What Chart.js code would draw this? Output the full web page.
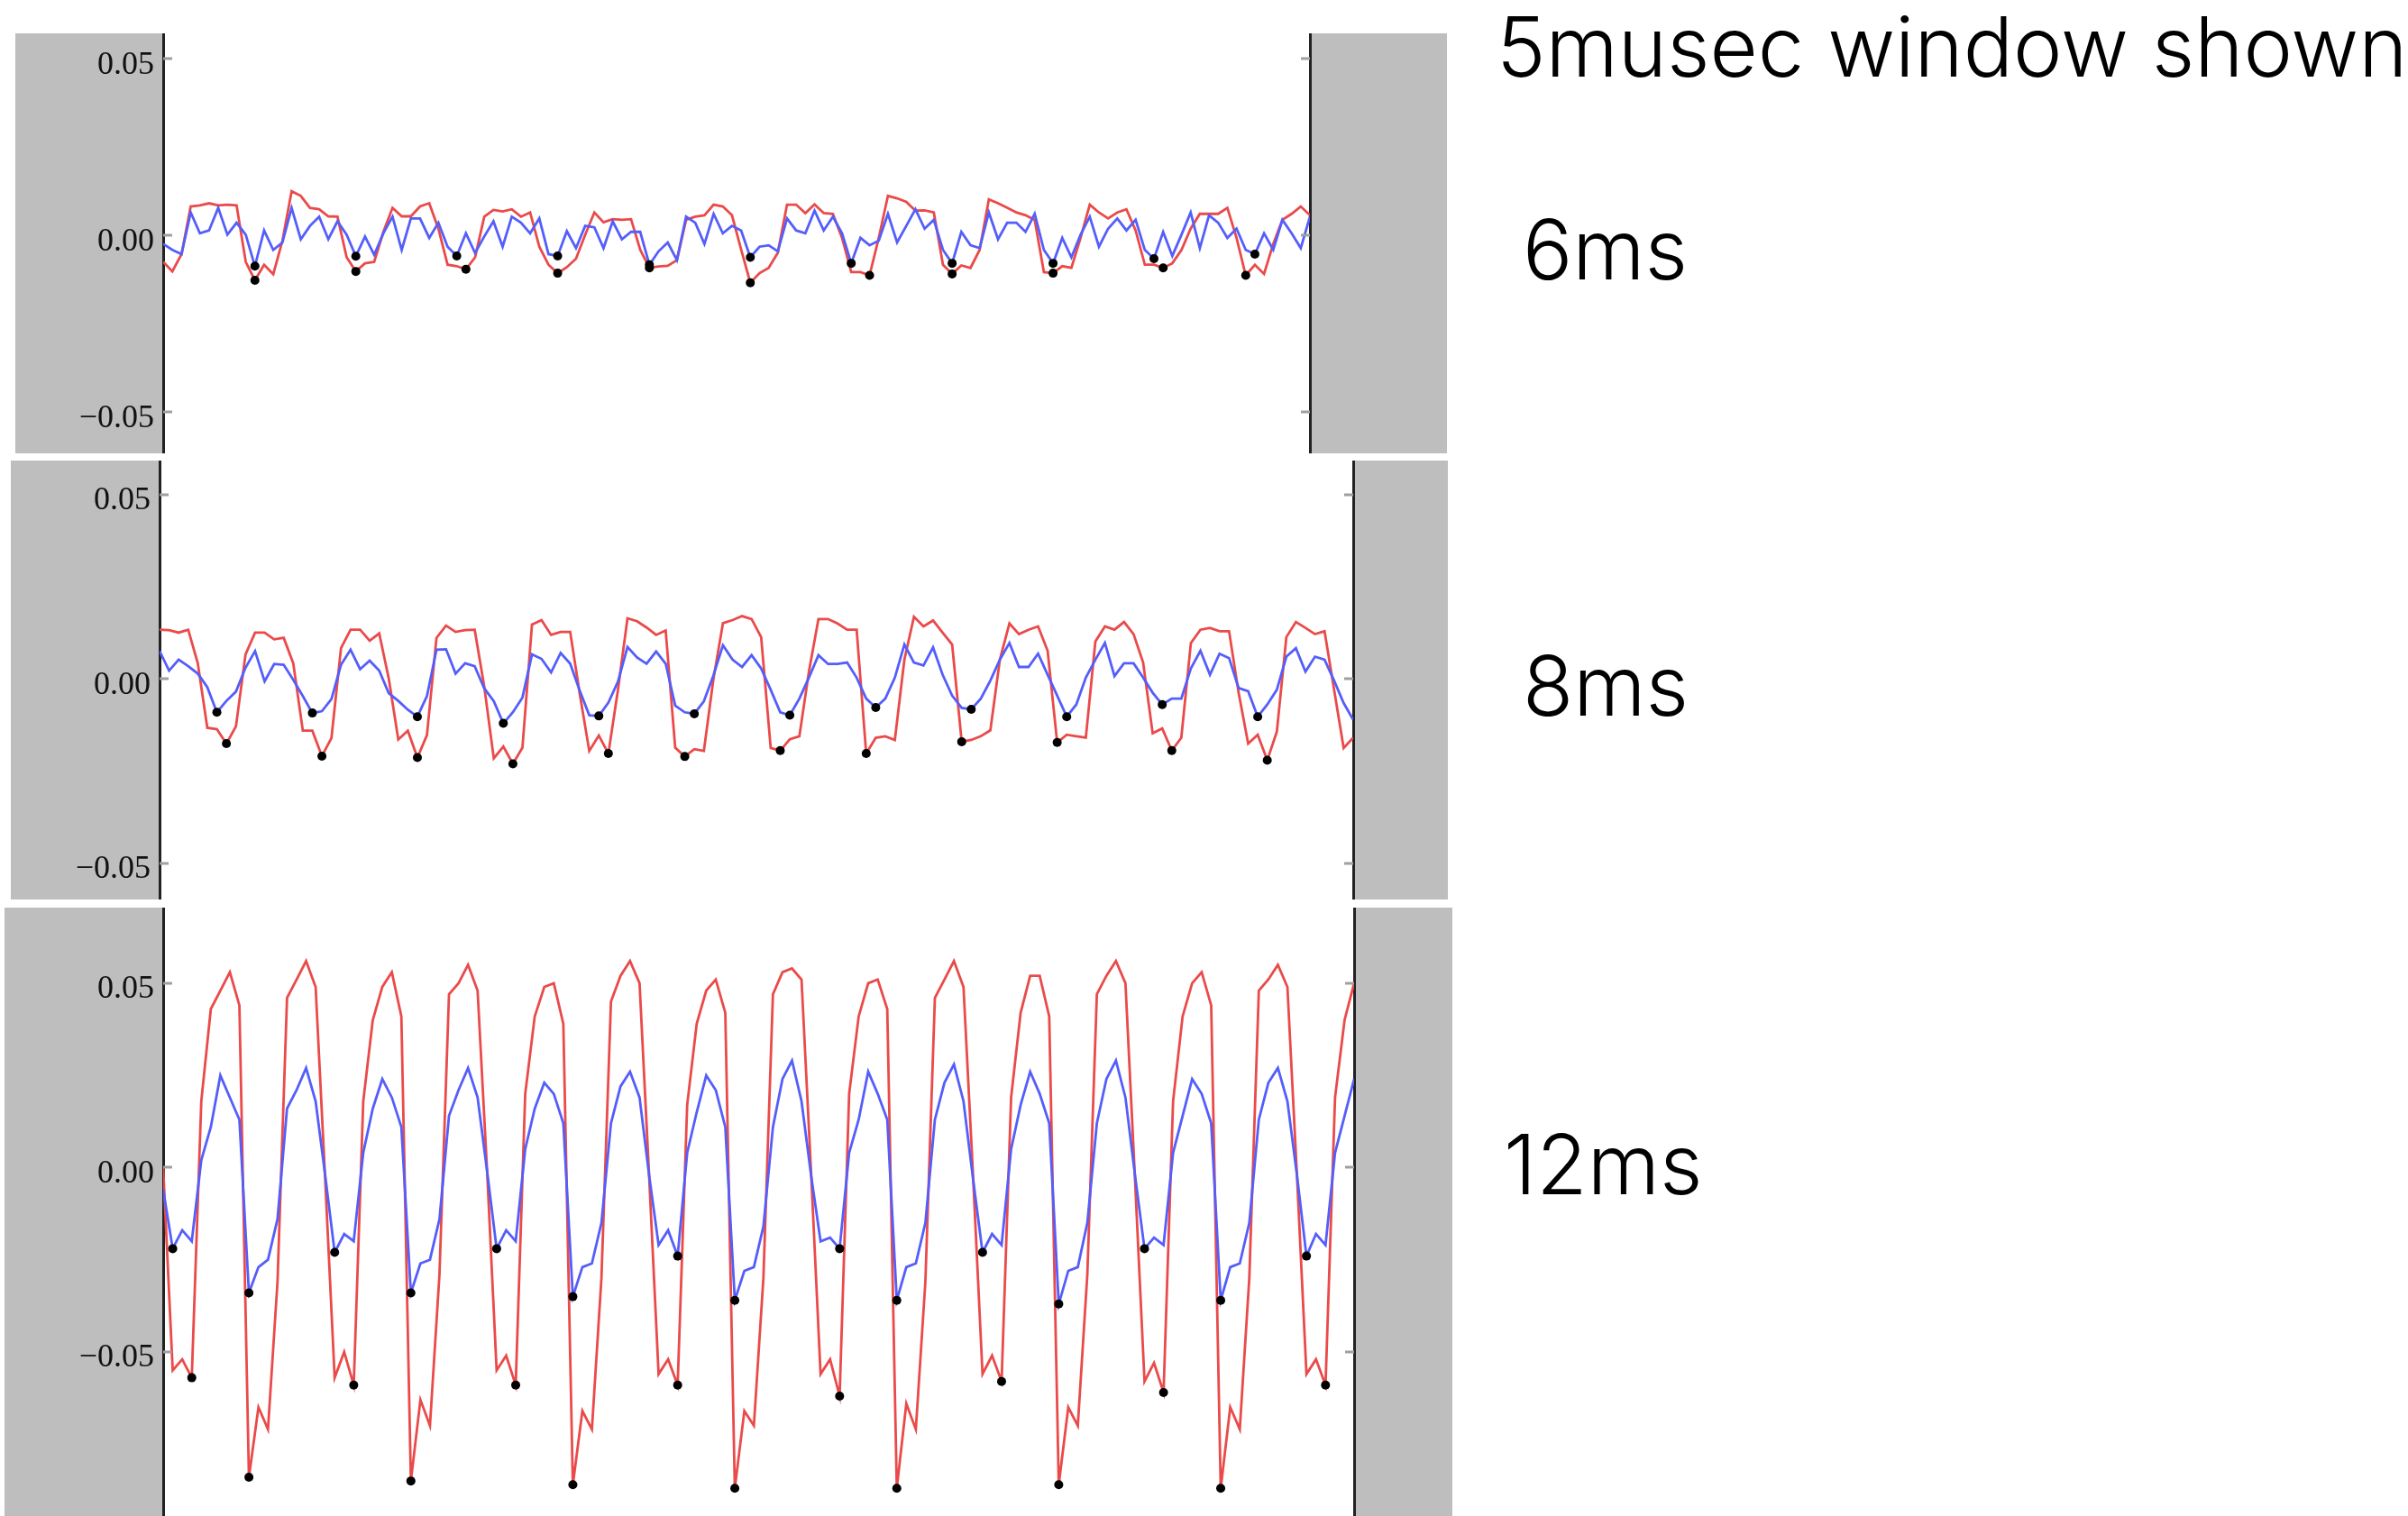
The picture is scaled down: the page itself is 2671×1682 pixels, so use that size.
<!DOCTYPE html>
<html>
<head>
<meta charset="utf-8">
<script src="https://cdn.jsdelivr.net/npm/chart.js@4.4.1/dist/chart.umd.min.js"></script>
<style>
html, body { margin:0; padding:0; background:#ffffff; width:2671px; height:1682px; overflow:hidden; }
canvas { position:absolute; display:block; }
.lbl { position:absolute; font-family:Inter, Roboto, "Liberation Sans", sans-serif; font-weight:300; color:#000; white-space:nowrap; line-height:1; font-size:92px; }
</style>
</head>
<body>
<canvas id="c1" width="1588" height="466" style="left:17px;top:37px"></canvas>
<canvas id="c2" width="1594" height="487" style="left:12px;top:511px"></canvas>
<canvas id="c3" width="1606" height="675" style="left:5px;top:1007px"></canvas>
<div class="lbl" id="title" style="left:1660px;top:6px"></div>
<div class="lbl" id="t1" style="left:1689px;top:231px"></div>
<div class="lbl" id="t2" style="left:1689px;top:715px"></div>
<div class="lbl" id="t3" style="left:1668px;top:1246px"></div>
<script>
// ---------------- data ----------------
const windowTitle = "5musec window shown";
const panelNames = ["6ms", "8ms", "12ms"];
const sampleIdx = Array.from({length: 126}, (_, i) => i);
const yTickValues = [-0.05, 0, 0.05];

// 6 ms
const red6 = [-0.0075,-0.0102,-0.0053,0.0082,0.0085,0.0091,0.0085,0.0087,0.0085,-0.0075,
 -0.0127,-0.0083,-0.0110,-0.0015,0.0125,0.0112,0.0078,0.0074,0.0054,0.0053,
 -0.0062,-0.0102,-0.0079,-0.0075,0.0010,0.0078,0.0054,0.0054,0.0082,0.0091,
 0.0019,-0.0083,-0.0087,-0.0096,-0.0062,0.0053,0.0072,0.0068,0.0074,0.0053,
 0.0065,-0.0032,-0.0083,-0.0107,-0.0090,-0.0066,0.0002,0.0065,0.0037,0.0046,
 0.0044,0.0046,-0.0041,-0.0092,-0.0088,-0.0086,-0.0070,0.0044,0.0053,0.0057,
 0.0087,0.0082,0.0057,-0.0040,-0.0134,-0.0107,-0.0092,-0.0049,0.0087,0.0087,
 0.0063,0.0088,0.0063,0.0061,-0.0007,-0.0104,-0.0104,-0.0113,-0.0007,0.0112,
 0.0105,0.0095,0.0070,0.0071,0.0065,-0.0083,-0.0109,-0.0085,-0.0092,-0.0041,
 0.0102,0.0091,0.0078,0.0065,0.0057,0.0044,-0.0104,-0.0107,-0.0087,-0.0092,
 -0.0007,0.0087,0.0065,0.0048,0.0065,0.0074,0.0014,-0.0083,-0.0083,-0.0092,
 -0.0079,-0.0041,0.0019,0.0061,0.0061,0.0061,0.0078,-0.0007,-0.0113,-0.0083,
 -0.0109,-0.0024,0.0044,0.0061,0.0082,0.0057];
const blue6 = [-0.0024,-0.0041,-0.0053,0.0065,0.0006,0.0014,0.0078,0.0002,0.0036,0.0002,
 -0.0087,0.0014,-0.0041,-0.0020,0.0078,-0.0011,0.0027,0.0053,-0.0011,0.0040,
 0.0002,-0.0059,-0.0003,-0.0055,0.0006,0.0053,-0.0041,0.0048,0.0048,-0.0007,
 0.0036,-0.0032,-0.0058,0.0006,-0.0050,-0.0003,0.0040,-0.0032,0.0053,0.0036,
 0.0006,0.0048,-0.0053,-0.0058,0.0012,-0.0036,0.0027,0.0023,-0.0036,0.0040,
 -0.0011,0.0010,0.0010,-0.0083,-0.0045,-0.0020,-0.0070,0.0053,0.0036,-0.0024,
 0.0061,0.0006,0.0027,0.0014,-0.0062,-0.0032,-0.0028,-0.0045,0.0048,0.0014,
 0.0006,0.0070,0.0014,0.0053,0.0006,-0.0079,-0.0007,-0.0028,-0.0015,0.0061,
 -0.0020,0.0027,0.0074,0.0019,0.0044,-0.0041,-0.0079,0.0010,-0.0028,-0.0036,
 0.0065,-0.0011,0.0036,0.0036,0.0010,0.0061,-0.0041,-0.0079,-0.0007,-0.0062,
 0.0002,0.0053,-0.0032,0.0019,0.0048,0.0014,0.0044,-0.0041,-0.0066,0.0010,
 -0.0058,0.0002,0.0065,-0.0036,0.0057,0.0036,-0.0007,0.0019,-0.0041,-0.0053,
 0.0006,-0.0041,0.0044,0.0006,-0.0036,0.0053];
const redDots6 = [10, 21, 33, 43, 53, 64, 77, 86, 97, 109, 118];
const blueDots6 = [10, 21, 32, 43, 53, 64, 75, 86, 97, 108, 119];

// 8 ms
const red8 = [0.0134,0.0133,0.0126,0.0134,0.0043,-0.0132,-0.0136,-0.0175,-0.0128,0.0067,
 0.0126,0.0126,0.0108,0.0112,0.0043,-0.0140,-0.0140,-0.0209,-0.0160,0.0084,
 0.0134,0.0134,0.0104,0.0124,0.0002,-0.0164,-0.0140,-0.0213,-0.0152,0.0112,
 0.0145,0.0128,0.0133,0.0134,-0.0020,-0.0215,-0.0183,-0.0230,-0.0186,0.0148,
 0.0160,0.0120,0.0128,0.0128,-0.0040,-0.0195,-0.0153,-0.0202,-0.0030,0.0165,
 0.0157,0.0140,0.0120,0.0132,-0.0186,-0.0210,-0.0190,-0.0195,0.0000,0.0152,
 0.0160,0.0171,0.0163,0.0114,-0.0187,-0.0194,-0.0163,-0.0155,0.0020,0.0163,
 0.0163,0.0151,0.0134,0.0134,-0.0202,-0.0159,-0.0155,-0.0165,0.0053,0.0169,
 0.0143,0.0159,0.0126,0.0094,-0.0170,-0.0165,-0.0155,-0.0139,0.0053,0.0151,
 0.0122,0.0134,0.0143,0.0077,-0.0172,-0.0151,-0.0155,-0.0159,0.0102,0.0143,
 0.0134,0.0155,0.0122,0.0045,-0.0147,-0.0134,-0.0194,-0.0159,0.0098,0.0134,
 0.0139,0.0130,0.0130,-0.0037,-0.0175,-0.0151,-0.0220,-0.0143,0.0114,0.0155,
 0.0139,0.0122,0.0130,-0.0029,-0.0187,-0.0159];
const blue8 = [0.0076,0.0023,0.0053,0.0035,0.0015,-0.0022,-0.0090,-0.0059,-0.0034,0.0031,
 0.0076,-0.0006,0.0041,0.0039,-0.0002,-0.0046,-0.0092,-0.0087,-0.0054,0.0039,
 0.0080,0.0027,0.0050,0.0023,-0.0038,-0.0059,-0.0083,-0.0102,-0.0046,0.0080,
 0.0081,0.0015,0.0043,0.0035,-0.0025,-0.0060,-0.0120,-0.0090,-0.0050,0.0067,
 0.0055,0.0018,0.0071,0.0042,-0.0031,-0.0098,-0.0100,-0.0064,-0.0007,0.0087,
 0.0059,0.0042,0.0075,0.0042,-0.0072,-0.0090,-0.0094,-0.0060,0.0010,0.0092,
 0.0053,0.0033,0.0065,0.0029,-0.0029,-0.0090,-0.0098,-0.0053,0.0004,0.0065,
 0.0041,0.0041,0.0045,0.0004,-0.0053,-0.0077,-0.0053,0.0004,0.0094,0.0045,
 0.0037,0.0086,0.0012,-0.0045,-0.0078,-0.0082,-0.0053,-0.0004,0.0053,0.0098,
 0.0033,0.0033,0.0069,0.0012,-0.0045,-0.0102,-0.0069,0.0004,0.0053,0.0098,
 0.0008,0.0043,0.0043,0.0004,-0.0037,-0.0069,-0.0053,-0.0053,0.0029,0.0077,
 0.0012,0.0069,0.0057,-0.0024,-0.0033,-0.0102,-0.0069,-0.0029,0.0061,0.0084,
 0.0020,0.0061,0.0053,-0.0004,-0.0065,-0.0110];
const redDots8 = [7, 17, 27, 37, 47, 55, 65, 74, 84, 94, 106, 116];
const blueDots8 = [6, 16, 27, 36, 46, 56, 66, 75, 85, 95, 105, 115];

// 12 ms
const red12 = [0.000,-0.055,-0.052,-0.057,0.018,0.043,0.048,0.053,0.044,
 -0.084,-0.065,-0.071,-0.031,0.046,0.051,0.056,0.049,-0.003,-0.057,-0.050,-0.059,0.018,0.040,0.049,0.053,0.041,
 -0.085,-0.063,-0.070,-0.029,0.047,0.050,0.055,0.048,-0.001,-0.055,-0.051,-0.059,0.020,0.041,0.049,0.050,0.039,
 -0.086,-0.066,-0.071,-0.030,0.045,0.052,0.056,0.050,-0.002,-0.056,-0.052,-0.059,0.017,0.039,0.048,0.051,0.042,
 -0.087,-0.066,-0.070,-0.030,0.047,0.053,0.054,0.051,-0.001,-0.056,-0.052,-0.062,0.020,0.041,0.050,0.051,0.043,
 -0.087,-0.064,-0.071,-0.031,0.046,0.051,0.056,0.049,-0.002,-0.056,-0.051,-0.058,0.019,0.042,0.052,0.052,0.041,
 -0.086,-0.065,-0.070,-0.029,0.047,0.052,0.056,0.050,-0.003,-0.058,-0.053,-0.061,0.018,0.041,0.050,0.053,0.044,
 -0.087,-0.065,-0.071,-0.030,0.048,0.051,0.055,0.049,-0.002,-0.056,-0.052,-0.059,0.019,0.040,0.050];
const blue12 = [-0.006,-0.022,-0.017,-0.020,0.002,0.011,0.025,0.019,0.013,
 -0.034,-0.027,-0.025,-0.014,0.016,0.021,0.027,0.018,-0.002,-0.023,-0.018,-0.020,0.004,0.016,0.024,0.019,0.011,
 -0.034,-0.026,-0.025,-0.014,0.014,0.021,0.027,0.019,-0.001,-0.022,-0.017,-0.020,0.005,0.016,0.023,0.020,0.012,
 -0.035,-0.027,-0.026,-0.015,0.012,0.022,0.026,0.019,-0.002,-0.021,-0.017,-0.024,0.004,0.015,0.025,0.021,0.011,
 -0.036,-0.028,-0.027,-0.016,0.011,0.024,0.029,0.018,-0.002,-0.020,-0.019,-0.022,0.004,0.013,0.026,0.020,0.013,
 -0.036,-0.027,-0.026,-0.015,0.013,0.023,0.028,0.018,-0.003,-0.023,-0.018,-0.021,0.005,0.017,0.026,0.020,0.012,
 -0.037,-0.028,-0.027,-0.015,0.012,0.024,0.029,0.019,-0.002,-0.022,-0.019,-0.021,0.004,0.014,0.024,0.020,0.012,
 -0.036,-0.027,-0.026,-0.015,0.013,0.023,0.027,0.018,-0.002,-0.024,-0.018,-0.021,0.004,0.014,0.024];
const redDots12 = [3, 9, 20, 26, 37, 43, 54, 60, 71, 77, 88, 94, 105, 111, 122];
const blueDots12 = [1, 9, 18, 26, 35, 43, 54, 60, 71, 77, 86, 94, 103, 111, 120];

// ---------------- drawing ----------------
const RED = 'rgb(234,74,74)';
const BLUE = 'rgb(84,94,250)';

const panelBg = {
  id: 'panelBg',
  beforeDraw(chart) {
    const {ctx, chartArea: a, width, height} = chart;
    ctx.save();
    ctx.fillStyle = '#bebebe';
    ctx.fillRect(0, 0, width, height);
    ctx.fillStyle = '#ffffff';
    ctx.fillRect(a.left, 0, a.right - a.left, height);
    ctx.restore();
  }
};
const innerTicks = {
  id: 'innerTicks',
  afterDraw(chart) {
    const {ctx, chartArea: a} = chart;
    const ys = chart.scales.y;
    ctx.save();
    ctx.strokeStyle = '#a0a0a0';
    ctx.lineWidth = 3;
    ys.ticks.forEach(t => {
      const py = Math.round(ys.getPixelForValue(t.value));
      ctx.beginPath();
      ctx.moveTo(a.left, py); ctx.lineTo(a.left + 10, py);
      ctx.moveTo(a.right - 10, py); ctx.lineTo(a.right, py);
      ctx.stroke();
    });
    ctx.restore();
  }
};
function fmt(v) {
  if (Math.abs(v) < 1e-9) return '0.00';
  return (v < 0 ? '\u2212' : '') + Math.abs(v).toFixed(2);
}
function buildPanel(id, red, blue, redDots, blueDots, yMin, yMax, leftW, rightW) {
  const toPts = arr => arr.map((v, i) => ({x: sampleIdx[i], y: v}));
  const dotPts = (idx, arr) => idx.map(i => ({x: sampleIdx[i], y: arr[i]}));
  const dotStyle = {showLine: false, pointRadius: 5, pointBackgroundColor: '#000', pointBorderColor: '#000', pointBorderWidth: 0, borderWidth: 0, order: 0};
  return new Chart(document.getElementById(id), {
    type: 'line',
    data: {
      datasets: [
        Object.assign({label: 'red minima', data: dotPts(redDots, red)}, dotStyle),
        Object.assign({label: 'blue minima', data: dotPts(blueDots, blue)}, dotStyle),
        {label: 'blue', data: toPts(blue), borderColor: BLUE, borderWidth: 2.8, pointRadius: 0, tension: 0, order: 1},
        {label: 'red', data: toPts(red), borderColor: RED, borderWidth: 2.8, pointRadius: 0, tension: 0, order: 2}
      ]
    },
    options: {
      responsive: false,
      animation: false,
      devicePixelRatio: 1,
      layout: {padding: 0, autoPadding: false},
      plugins: {legend: {display: false}, tooltip: {enabled: false}, title: {display: false}},
      scales: {
        x: {type: 'linear', min: 0, max: 125, display: false},
        y: {
          position: 'left', min: yMin, max: yMax,
          afterBuildTicks: s => { s.ticks = yTickValues.map(v => ({value: v})); },
          afterFit: s => { s.width = leftW; s.paddingTop = 0; s.paddingBottom = 0; },
          grid: {display: false, drawTicks: false},
          border: {display: true, color: '#222', width: 3},
          ticks: {padding: 10, labelOffset: 7, color: '#111', font: {family: 'Liberation Serif', size: 36}, callback: v => fmt(v)}
        },
        yr: {
          position: 'right', min: yMin, max: yMax,
          afterFit: s => { s.width = rightW; s.paddingTop = 0; s.paddingBottom = 0; },
          grid: {display: false, drawTicks: false},
          border: {display: true, color: '#222', width: 3},
          ticks: {display: false}
        }
      }
    },
    plugins: [panelBg, innerTicks]
  });
}

buildPanel('c1', red6, blue6, redDots6, blueDots6, -0.0617, 0.0572, 164, 152);
buildPanel('c2', red8, blue8, redDots8, blueDots8, -0.0598, 0.0593, 165, 105);
buildPanel('c3', red12, blue12, redDots12, blueDots12, -0.0945, 0.0705, 176, 109);

document.getElementById('title').textContent = windowTitle;
document.getElementById('t1').textContent = panelNames[0];
document.getElementById('t2').textContent = panelNames[1];
document.getElementById('t3').textContent = panelNames[2];
</script>
</body>
</html>
